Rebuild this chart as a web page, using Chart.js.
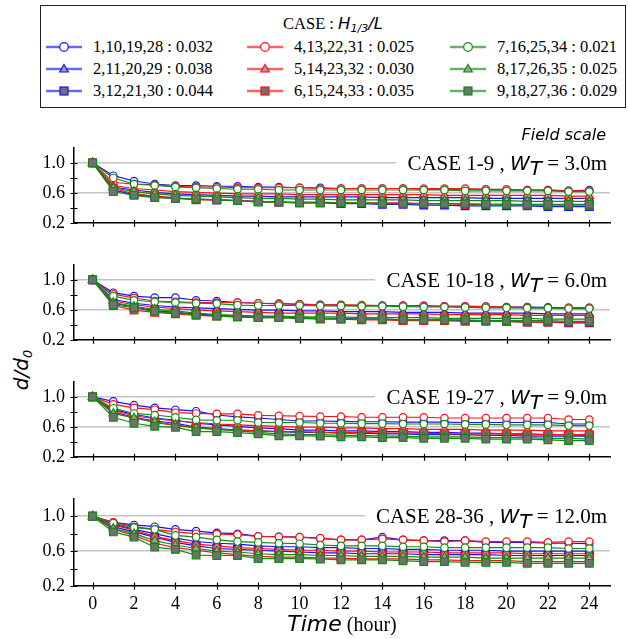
<!DOCTYPE html>
<html>
<head>
<meta charset="utf-8">
<script src="https://cdn.jsdelivr.net/npm/chart.js@4/dist/chart.umd.min.js"></script>
<style>
  html,body{margin:0;padding:0;background:#fff;}
  #wrap{position:relative;width:628px;height:639px;overflow:hidden;background:#fff;}
  #wrap canvas{position:absolute;left:0;}
  .serif{font-family:"Liberation Serif","Times New Roman",serif;}
  .isans{font-family:"DejaVu Sans",sans-serif;font-style:italic;}
  #legend{position:absolute;left:40px;top:5px;width:584px;height:101px;border:1.5px solid #222;box-sizing:content-box;}
  .ltitle{position:absolute;left:0;width:100%;top:8px;text-align:center;font-size:16.5px;line-height:20px;color:#000;}
  .litem{position:absolute;height:20px;}
  .litem svg{position:absolute;left:0;top:0;}
  .litem span{position:absolute;left:47px;top:0;font-size:16.5px;line-height:20px;white-space:nowrap;color:#000;}
  .ptitle{position:absolute;right:17px;height:24px;line-height:24px;background:#fff;padding-left:11px;padding-right:4px;font-size:21px;color:#000;white-space:nowrap;z-index:5;}
  .ptitle .isans{font-size:20px;}
  .ptitle sub{font-size:13px;vertical-align:-5px;line-height:0;}
  #field{position:absolute;right:22px;top:125px;font-size:16px;color:#000;z-index:5;}
  #xtitle{position:absolute;left:74px;width:536px;top:611px;text-align:center;color:#000;white-space:nowrap;z-index:5;}
  #ytitle{position:absolute;left:21px;top:370px;transform:translate(-50%,-50%) rotate(-90deg);font-size:20px;white-space:nowrap;color:#000;}
  #ytitle sub{font-size:13px;vertical-align:-4px;line-height:0;}
</style>
</head>
<body>
<div id="wrap">
  <div id="legend">
    <div class="ltitle serif">CASE : <span class="isans">H</span><sub class="isans" style="font-size:11px;vertical-align:-3px;line-height:0;">1/3</sub><span class="isans">/L</span></div>
  </div>
  <div id="field" class="isans">Field scale</div>
  <div id="xtitle"><span class="isans" style="font-size:22px;">Time</span><span class="serif" style="font-size:20px;"> (hour)</span></div>
  <div id="ytitle" class="isans">d/d<sub>0</sub></div>
</div>
<script>
// ---------------- DATA ----------------
const hours = [0,1,2,3,4,5,6,7,8,9,10,11,12,13,14,15,16,17,18,19,20,21,22,23,24];
const xTickValues = [0,2,4,6,8,10,12,14,16,18,20,22,24];
const yTickValues = [0.2,0.4,0.6,0.8,1.0];
const yLabelled = ['0.2','0.6','1.0'];
const caseLabels = ['1,10,19,28 : 0.032','2,11,20,29 : 0.038','3,12,21,30 : 0.044',
                    '4,13,22,31 : 0.025','5,14,23,32 : 0.030','6,15,24,33 : 0.035',
                    '7,16,25,34 : 0.021','8,17,26,35 : 0.025','9,18,27,36 : 0.029'];
const panelCases = ['CASE 1-9','CASE 10-18','CASE 19-27','CASE 28-36'];
const panelWidths = ['3.0m','6.0m','9.0m','12.0m'];

// Panel 1 : CASE 1-9, W_T = 3.0m
const p1s1 = [1.00,0.83,0.76,0.72,0.70,0.70,0.69,0.69,0.68,0.68,0.67,0.67,0.66,0.66,0.66,0.66,0.65,0.65,0.65,0.65,0.64,0.64,0.64,0.63,0.64];
const p1s2 = [1.00,0.68,0.64,0.61,0.59,0.58,0.57,0.56,0.56,0.55,0.55,0.55,0.55,0.55,0.54,0.54,0.54,0.54,0.54,0.53,0.53,0.53,0.53,0.53,0.53];
const p1s3 = [1.00,0.64,0.58,0.55,0.53,0.52,0.51,0.50,0.49,0.48,0.47,0.47,0.46,0.46,0.45,0.45,0.44,0.44,0.43,0.43,0.43,0.43,0.42,0.42,0.42];
const p1s4 = [1.00,0.74,0.72,0.71,0.69,0.68,0.68,0.67,0.67,0.67,0.67,0.66,0.66,0.66,0.66,0.66,0.66,0.66,0.66,0.65,0.65,0.64,0.64,0.63,0.63];
const p1s5 = [1.00,0.70,0.66,0.64,0.62,0.61,0.60,0.59,0.59,0.59,0.58,0.58,0.58,0.58,0.58,0.58,0.58,0.57,0.57,0.57,0.57,0.57,0.57,0.56,0.56];
const p1s6 = [1.00,0.66,0.59,0.56,0.54,0.51,0.51,0.50,0.49,0.48,0.48,0.48,0.47,0.47,0.47,0.47,0.46,0.46,0.45,0.45,0.45,0.44,0.44,0.44,0.44];
const p1s7 = [1.00,0.80,0.72,0.70,0.68,0.67,0.66,0.65,0.65,0.64,0.64,0.64,0.64,0.64,0.64,0.64,0.64,0.64,0.63,0.63,0.63,0.63,0.63,0.62,0.62];
const p1s8 = [1.00,0.67,0.62,0.59,0.57,0.56,0.55,0.54,0.53,0.53,0.52,0.52,0.51,0.51,0.51,0.51,0.50,0.50,0.50,0.50,0.50,0.49,0.49,0.49,0.49];
const p1s9 = [1.00,0.62,0.57,0.54,0.53,0.52,0.51,0.50,0.48,0.48,0.47,0.47,0.47,0.47,0.46,0.46,0.46,0.46,0.46,0.45,0.45,0.45,0.45,0.45,0.45];

// Panel 2 : CASE 10-18, W_T = 6.0m
const p2s1 = [1.00,0.83,0.785,0.765,0.765,0.73,0.72,0.70,0.69,0.685,0.675,0.67,0.665,0.66,0.66,0.66,0.655,0.65,0.65,0.645,0.64,0.64,0.635,0.63,0.63];
const p2s2 = [1.00,0.74,0.69,0.66,0.64,0.63,0.62,0.61,0.60,0.60,0.59,0.59,0.58,0.58,0.58,0.57,0.57,0.57,0.56,0.56,0.56,0.56,0.55,0.55,0.55];
const p2s3 = [1.00,0.69,0.64,0.59,0.57,0.55,0.53,0.52,0.51,0.51,0.50,0.49,0.49,0.48,0.48,0.47,0.47,0.47,0.46,0.46,0.45,0.44,0.44,0.43,0.43];
const p2s4 = [1.00,0.81,0.76,0.72,0.71,0.70,0.70,0.70,0.69,0.68,0.68,0.67,0.67,0.665,0.66,0.66,0.655,0.65,0.65,0.645,0.64,0.635,0.63,0.63,0.63];
const p2s5 = [1.00,0.72,0.67,0.64,0.62,0.60,0.59,0.58,0.57,0.56,0.56,0.56,0.56,0.55,0.55,0.55,0.55,0.54,0.54,0.54,0.54,0.53,0.53,0.53,0.53];
const p2s6 = [1.00,0.66,0.60,0.57,0.55,0.53,0.52,0.51,0.50,0.50,0.49,0.48,0.48,0.47,0.47,0.46,0.46,0.46,0.45,0.45,0.45,0.44,0.44,0.44,0.44];
const p2s7 = [1.00,0.785,0.73,0.71,0.70,0.69,0.685,0.665,0.66,0.66,0.66,0.655,0.655,0.65,0.65,0.645,0.64,0.64,0.635,0.63,0.63,0.625,0.625,0.62,0.62];
const p2s8 = [1.00,0.70,0.65,0.61,0.59,0.56,0.54,0.53,0.52,0.52,0.51,0.51,0.51,0.50,0.50,0.50,0.50,0.49,0.49,0.49,0.49,0.49,0.48,0.48,0.48];
const p2s9 = [1.00,0.67,0.63,0.58,0.56,0.54,0.52,0.51,0.50,0.50,0.49,0.49,0.48,0.48,0.48,0.47,0.47,0.47,0.47,0.46,0.46,0.46,0.46,0.45,0.45];

// Panel 3 : CASE 19-27, W_T = 9.0m
const p3s1 = [1.00,0.94,0.89,0.855,0.83,0.81,0.76,0.735,0.72,0.70,0.68,0.68,0.675,0.67,0.67,0.665,0.665,0.665,0.66,0.66,0.66,0.66,0.66,0.64,0.64];
const p3s2 = [1.00,0.83,0.77,0.72,0.69,0.65,0.63,0.61,0.59,0.58,0.56,0.56,0.55,0.55,0.54,0.54,0.53,0.53,0.52,0.52,0.51,0.51,0.50,0.50,0.49];
const p3s3 = [1.00,0.80,0.73,0.68,0.65,0.60,0.58,0.56,0.55,0.54,0.53,0.53,0.52,0.52,0.51,0.51,0.50,0.50,0.50,0.49,0.49,0.48,0.48,0.48,0.48];
const p3s4 = [1.00,0.90,0.855,0.83,0.79,0.78,0.775,0.775,0.755,0.75,0.745,0.74,0.74,0.73,0.73,0.73,0.73,0.72,0.72,0.72,0.72,0.72,0.72,0.70,0.70];
const p3s5 = [1.00,0.82,0.75,0.71,0.68,0.66,0.64,0.63,0.62,0.61,0.60,0.60,0.59,0.59,0.58,0.58,0.57,0.57,0.57,0.56,0.56,0.56,0.55,0.55,0.55];
const p3s6 = [1.00,0.79,0.72,0.66,0.62,0.59,0.57,0.56,0.55,0.54,0.54,0.53,0.53,0.53,0.52,0.52,0.52,0.51,0.51,0.51,0.51,0.50,0.50,0.50,0.50];
const p3s7 = [1.00,0.85,0.78,0.76,0.73,0.695,0.69,0.69,0.66,0.66,0.66,0.65,0.65,0.645,0.645,0.64,0.64,0.64,0.635,0.635,0.63,0.63,0.63,0.62,0.62];
const p3s8 = [1.00,0.78,0.72,0.67,0.63,0.59,0.57,0.55,0.53,0.51,0.50,0.50,0.49,0.49,0.48,0.48,0.47,0.47,0.47,0.46,0.46,0.46,0.45,0.45,0.44];
const p3s9 = [1.00,0.73,0.65,0.61,0.595,0.54,0.54,0.525,0.51,0.485,0.485,0.48,0.47,0.47,0.46,0.46,0.45,0.45,0.45,0.44,0.44,0.44,0.43,0.42,0.42];

// Panel 4 : CASE 28-36, W_T = 12.0m
const p4s1 = [1.00,0.93,0.90,0.88,0.85,0.83,0.81,0.80,0.77,0.765,0.76,0.745,0.73,0.73,0.76,0.73,0.72,0.72,0.72,0.70,0.70,0.70,0.69,0.69,0.685];
const p4s2 = [1.00,0.91,0.85,0.80,0.75,0.71,0.69,0.68,0.66,0.65,0.65,0.64,0.64,0.63,0.63,0.62,0.62,0.61,0.61,0.61,0.60,0.60,0.60,0.60,0.60];
const p4s3 = [1.00,0.88,0.82,0.76,0.70,0.66,0.63,0.62,0.61,0.60,0.59,0.58,0.58,0.57,0.57,0.57,0.56,0.56,0.56,0.56,0.55,0.55,0.55,0.55,0.55];
const p4s4 = [1.00,0.93,0.88,0.85,0.82,0.80,0.795,0.79,0.77,0.765,0.76,0.75,0.73,0.73,0.74,0.73,0.72,0.71,0.72,0.71,0.71,0.71,0.70,0.71,0.71];
const p4s5 = [1.00,0.90,0.84,0.77,0.72,0.68,0.66,0.64,0.63,0.62,0.61,0.61,0.60,0.60,0.59,0.59,0.59,0.58,0.58,0.58,0.58,0.57,0.57,0.57,0.57];
const p4s6 = [1.00,0.85,0.78,0.69,0.64,0.61,0.58,0.56,0.54,0.53,0.53,0.52,0.52,0.51,0.51,0.51,0.50,0.50,0.49,0.49,0.49,0.48,0.48,0.48,0.48];
const p4s7 = [1.00,0.92,0.87,0.85,0.78,0.76,0.73,0.71,0.70,0.69,0.685,0.67,0.66,0.66,0.66,0.65,0.65,0.64,0.64,0.64,0.64,0.64,0.64,0.63,0.63];
const p4s8 = [1.00,0.86,0.80,0.72,0.67,0.63,0.60,0.59,0.57,0.56,0.56,0.55,0.55,0.54,0.54,0.54,0.53,0.53,0.53,0.52,0.52,0.52,0.52,0.52,0.52];
const p4s9 = [1.00,0.82,0.76,0.645,0.62,0.555,0.55,0.55,0.515,0.515,0.515,0.51,0.50,0.50,0.50,0.49,0.48,0.48,0.47,0.47,0.47,0.46,0.46,0.46,0.46];

const panelData = [
  [p1s1,p1s2,p1s3,p1s4,p1s5,p1s6,p1s7,p1s8,p1s9],
  [p2s1,p2s2,p2s3,p2s4,p2s5,p2s6,p2s7,p2s8,p2s9],
  [p3s1,p3s2,p3s3,p3s4,p3s5,p3s6,p3s7,p3s8,p3s9],
  [p4s1,p4s2,p4s3,p4s4,p4s5,p4s6,p4s7,p4s8,p4s9]
];

// ---------------- STYLES ----------------
const BLUE='#1414ff', RED='#ff1010', GREEN='#138a13';
const seriesColors = [BLUE,BLUE,BLUE,RED,RED,RED,GREEN,GREEN,GREEN];
const seriesShapes = ['circle','triangle','rect','circle','triangle','rect','circle','triangle','rect'];
const shapeFill = {circle:'#ffffff', triangle:'#a0a0a0', rect:'#707070'};
const shapeRadius = {circle:3.7, triangle:4.8, rect:5.4};
const TICK_FONT = {family:'Liberation Serif', size:18};

// legend (HTML)
const legend = document.getElementById('legend');
const colX = [5, 206, 409];
const rowY = [31, 53, 75];
caseLabels.forEach((lab,k)=>{
  const col = Math.floor(k/3), row = k%3;
  const d = document.createElement('div');
  d.className='litem';
  d.style.left=colX[col]+'px'; d.style.top=rowY[row]+'px';
  const c = seriesColors[k], sh = seriesShapes[k];
  let m='';
  if(sh==='circle') m=`<circle cx="18" cy="10" r="4.3" fill="#fff" stroke="${c}" stroke-width="1.2"/>`;
  if(sh==='triangle') m=`<polygon points="18,5.5 22.3,13 13.7,13" fill="#a0a0a0" stroke="${c}" stroke-width="1.2"/>`;
  if(sh==='rect') m=`<rect x="14" y="6" width="8" height="8" fill="#707070" stroke="${c}" stroke-width="1.2"/>`;
  d.innerHTML = `<svg width="36" height="20"><line x1="0" y1="10" x2="36" y2="10" stroke="${c}" stroke-opacity="0.3" stroke-width="3"/><line x1="0" y1="10" x2="36" y2="10" stroke="${c}" stroke-width="1.2"/>${m}</svg><span class="serif">${lab}</span>`;
  legend.appendChild(d);
});

// ---------------- CHARTS ----------------
const wrap = document.getElementById('wrap');
const PANEL_BOTTOMS = [235,352,469,586];
const PLOT_H = 99, PAD_TOP = 8;

const crossTicks = {
  id:'crossTicks',
  afterDraw(chart){
    const {ctx, chartArea:a, scales:{x,y}} = chart;
    ctx.save();
    ctx.strokeStyle='#000'; ctx.lineWidth=1.2;
    ctx.beginPath();
    xTickValues.forEach(v=>{const px=Math.round(x.getPixelForValue(v))+0.5; ctx.moveTo(px,a.bottom-3.5); ctx.lineTo(px,a.bottom+3.5);});
    yTickValues.forEach(v=>{const py=Math.round(y.getPixelForValue(v))+0.5; ctx.moveTo(a.left-3.5,py); ctx.lineTo(a.left+3.5,py);});
    ctx.stroke();
    ctx.restore();
  }
};

function build(){
  panelData.forEach((series,i)=>{
    const last = i===panelData.length-1;
    const XH = last?30:8;
    const canvasTop = PANEL_BOTTOMS[i]-PLOT_H-PAD_TOP;
    const H = PAD_TOP+PLOT_H+XH;
    const cv = document.createElement('canvas');
    cv.width=628; cv.height=H;
    cv.style.width='628px'; cv.style.height=H+'px';
    cv.style.top=canvasTop+'px';
    wrap.appendChild(cv);
    const datasets = series.map((vals,k)=>{
      const sh = seriesShapes[k];
      return {
        label: caseLabels[k],
        data: hours.map((h,j)=>({x:h,y:vals[j]})),
        borderColor: seriesColors[k],
        borderWidth: 1.2,
        pointStyle: sh,
        pointRadius: shapeRadius[sh],
        pointBackgroundColor: shapeFill[sh],
        pointBorderColor: seriesColors[k],
        pointBorderWidth: 1.2,
        tension: 0,
        fill: false,
        order: 9-k,
        clip: false
      };
    });
    const chart = new Chart(cv.getContext('2d'),{
      type:'line',
      data:{datasets},
      options:{
        responsive:false, animation:false, devicePixelRatio:1,
        layout:{padding:{top:PAD_TOP,right:18,left:0,bottom:0}},
        plugins:{legend:{display:false},tooltip:{enabled:false}},
        scales:{
          x:{
            type:'linear', min:-0.9, max:25,
            afterFit(s){ s.height = XH; },
            afterBuildTicks(s){ s.ticks = xTickValues.map(v=>({value:v})); },
            ticks:{display:last, autoSkip:false, maxRotation:0, padding:7, color:'#000',
                   font:TICK_FONT, callback:(v)=>String(v)},
            grid:{display:false, drawTicks:false},
            border:{display:true,color:'#000',width:1.5}
          },
          y:{
            min:0.2, max:1.2,
            afterFit(s){ s.width = 74; },
            afterBuildTicks(s){ s.ticks = [0.2,0.4,0.6,0.8,1.0,1.2].map(v=>({value:v})); },
            ticks:{padding:9, color:'#000', font:TICK_FONT,
                   callback:(v)=>{const t=Number(v).toFixed(1); return yLabelled.includes(t)?t:'';}},
            grid:{drawTicks:false, lineWidth:1.5,
                  color:(ctx)=>{const v=ctx.tick?ctx.tick.value:0; return (v>0.3 && v<1.1)?'#c4c4c4':'rgba(0,0,0,0)';}},
            border:{display:true,color:'#000',width:1.5}
          }
        }
      },
      plugins:[crossTicks]
    });
    const y1 = canvasTop + chart.scales.y.getPixelForValue(1.0);
    const t = document.createElement('div');
    t.className='ptitle serif';
    t.style.top=(y1-12)+'px';
    t.innerHTML = `${panelCases[i]} , <span class="isans">W</span><sub class="isans">T</sub> = ${panelWidths[i]}`;
    wrap.appendChild(t);
  });
}

(document.fonts && document.fonts.load ? Promise.all([
  document.fonts.load('18px "Liberation Serif"'),
  document.fonts.load('italic 20px "DejaVu Sans"')
]).catch(()=>{}) : Promise.resolve()).then(build);
</script>
</body>
</html>
